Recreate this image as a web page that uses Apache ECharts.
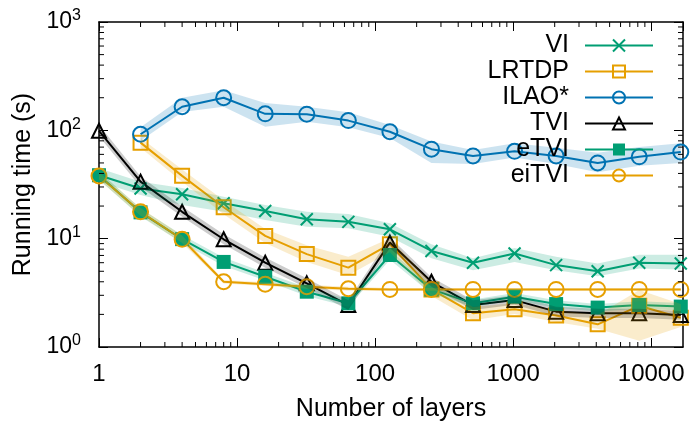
<!DOCTYPE html>
<html><head><meta charset="utf-8">
<script src="https://cdn.jsdelivr.net/npm/echarts@6/dist/echarts.min.js"></script>
<style>html,body{margin:0;padding:0;background:#fff}#c{width:691px;height:427px}</style>
</head><body><div id="c"></div>
<script>
const layers = [1,2,4,8,16,32,64,128,256,512,1024,2048,4096,8192,16384];

const viMean = [38.5,29.0,25.7,21.2,18.0,15.1,14.3,12.2,7.7,6.0,7.3,5.7,5.0,6.0,5.9];
const viLow  = [33.6,25.3,20.5,17.7,14.9,12.9,12.5,10.4,6.6,5.1,6.1,5.1,4.5,5.3,5.2];
const viHigh = [44.6,33.6,29.4,24.4,20.5,17.7,16.9,13.9,8.9,6.6,8.2,6.8,5.9,7.1,7.1];

const lrtdpMean = [null,77,38,19.5,10.6,7.2,5.4,8.9,3.4,2.05,2.23,1.95,1.62,2.4,1.86];
const lrtdpLow  = [null,69.2,33.6,16.8,9.1,6.1,4.6,7.5,2.96,1.77,2.02,1.7,1.47,1.14,1.53];
const lrtdpHigh = [null,85.5,43.4,22.6,12.3,8.7,6.8,10.1,3.9,2.34,2.55,2.2,1.97,3.36,2.49];

const ilaoMean = [null,92,165,200,142,141,123,97,67,58,64,58,50,57,63];
const ilaoLow  = [null,80,148,165,108,120,107,85,50,49,56,49,41,47,50];
const ilaoHigh = [null,107,200,235,179,165,147,112,79,66,76,69,62,70,76];

const tviMean = [99,33.6,17.7,9.87,6.0,3.87,2.44,9.2,4.0,2.44,2.71,2.12,2.05,2.05,1.97];
const tviLow  = [88,30,15.9,8.9,5.4,3.5,2.2,8.2,3.6,2.2,2.45,1.92,1.85,1.85,1.78];
const tviHigh = [112,37.5,19.8,11.0,6.7,4.3,2.7,10.3,4.4,2.7,3.0,2.35,2.25,2.25,2.15];

const etviMean = [38.5,17.5,9.9,6.1,4.45,3.24,2.53,7.07,3.4,2.53,2.91,2.49,2.31,2.44,2.36];
const etviLow  = [35,16,9.1,5.6,4.1,2.95,2.35,6.4,3.1,2.35,2.7,2.3,2.13,2.25,2.17];
const etviHigh = [42,19,10.8,6.7,4.85,3.55,2.75,7.8,3.7,2.75,3.15,2.7,2.5,2.65,2.55];

const eitviMean = [37.9,17.7,9.87,4.0,3.8,3.6,3.45,3.4,3.4,3.4,3.4,3.4,3.4,3.4,3.4];
const eitviLow  = [35,16.3,9.1,3.85,3.65,3.45,3.3,3.3,3.3,3.3,3.3,3.3,3.3,3.3,3.3];
const eitviHigh = [41,19.2,10.7,4.15,3.95,3.75,3.6,3.5,3.5,3.5,3.5,3.5,3.5,3.5,3.5];

const xMinorTicks = [2,3,4,5,6,7,8,9,20,30,40,50,60,70,80,90,200,300,400,500,600,700,800,900,2000,3000,4000,5000,6000,7000,8000,9000];
const yMinorTicks = [2,3,4,5,6,7,8,9,20,30,40,50,60,70,80,90,200,300,400,500,600,700,800,900];

const GREEN = '#009e73', ORANGE = '#e69f00', BLUE = '#0072b2', BLACK = '#000000';
const FONT = 'Liberation Sans, Arial, Helvetica, sans-serif';
const CROSS = 'path://M0,0L10,10M10,0L0,10';

function pairs(mean){ const out=[]; mean.forEach((v,i)=>{ if(v!=null) out.push([layers[i], v]); }); return out; }

function lineSeries(name, mean, color, symbol, size, filled){
  return {
    type:'line', name, data: pairs(mean), color,
    symbol, symbolSize: size, z: 2,
    lineStyle:{color, width:2},
    itemStyle:{color: filled ? color : 'rgba(0,0,0,0)', borderColor: color, borderWidth: filled?0:2},
    emphasis:{disabled:true}
  };
}
function bandSeries(low, high, rgba){
  return {
    type:'custom', coordinateSystem:'cartesian2d', data:[[1,1]], z:3, silent:true,
    renderItem(params, api){
      const top=[], bot=[];
      for(let i=0;i<layers.length;i++){
        if(low[i]==null) continue;
        top.push(api.coord([layers[i], high[i]]));
        bot.push(api.coord([layers[i], low[i]]));
      }
      return {type:'polygon', shape:{points: top.concat(bot.reverse())}, style:{fill: rgba, stroke:null}};
    }
  };
}
function minorX(){
  return {
    type:'custom', coordinateSystem:'cartesian2d', data: xMinorTicks.map(v=>[v,1]), z:5, silent:true, clip:false,
    renderItem(params, api){
      const cs = params.coordSys; const p = api.coord([api.value(0), 1]);
      const b = cs.y+cs.height, t = cs.y;
      return {type:'group', children:[
        {type:'line', shape:{x1:p[0],y1:b,x2:p[0],y2:b-5}, style:{stroke:'#000', lineWidth:1}},
        {type:'line', shape:{x1:p[0],y1:t,x2:p[0],y2:t+5}, style:{stroke:'#000', lineWidth:1}}
      ]};
    }
  };
}
function minorY(){
  return {
    type:'custom', coordinateSystem:'cartesian2d', data: yMinorTicks.map(v=>[1,v]), z:5, silent:true, clip:false,
    renderItem(params, api){
      const cs = params.coordSys; const p = api.coord([1, api.value(1)]);
      const l = cs.x, r = cs.x+cs.width;
      return {type:'group', children:[
        {type:'line', shape:{x1:l,y1:p[1],x2:l+5,y2:p[1]}, style:{stroke:'#000', lineWidth:1}},
        {type:'line', shape:{x1:r,y1:p[1],x2:r-5,y2:p[1]}, style:{stroke:'#000', lineWidth:1}}
      ]};
    }
  };
}

const names = ['VI','LRTDP','ILAO*','TVI','eTVI','eiTVI'];
const legendCenters = [45.5,71.5,97.5,123.5,149.5,175.5];
const legends = names.map((n,i)=>({
  data:[n], orient:'vertical', align:'right', right:37, top: legendCenters[i]-14,
  itemWidth:68, itemHeight:15, padding:0, selectedMode:false,
  textStyle:{fontFamily:FONT, fontSize:25, color:'#000', padding:[0,11,0,0], lineHeight:28}
}));

const axisCommon = {
  type:'log', logBase:10,
  axisLine:{show:true, onZero:false, lineStyle:{color:'#000', width:1.5}},
  axisTick:{show:true, inside:true, length:9, lineStyle:{color:'#000', width:1}},
  splitLine:{show:false}, minorTick:{show:false}
};

const chart = echarts.init(document.getElementById('c'), null, {renderer:'canvas'});
chart.setOption({
  animation:false,
  backgroundColor:'#fff',
  grid:{left:99, right:8, top:22, bottom:80, containLabel:false},
  legend: legends,
  xAxis:[
    Object.assign({}, axisCommon, {position:'bottom', min:1, max:17000,
      name:'Number of layers', nameLocation:'middle', nameGap:50,
      nameTextStyle:{fontFamily:FONT, fontSize:25, color:'#000'},
      axisLabel:{show:true, margin:15, fontFamily:FONT, fontSize:24, color:'#000', showMaxLabel:false,
        formatter:v=>String(Math.round(v))}}),
    Object.assign({}, axisCommon, {position:'top', min:1, max:17000, axisLabel:{show:false}})
  ],
  yAxis:[
    Object.assign({}, axisCommon, {position:'left', min:1, max:1000,
      name:'Running time (s)', nameLocation:'middle', nameGap:63,
      nameTextStyle:{fontFamily:FONT, fontSize:25, color:'#000'},
      axisLabel:{show:true, margin:18, fontFamily:FONT, color:'#000',
        formatter:v=>'{b|10}{s|'+Math.round(Math.log10(v))+'}',
        rich:{b:{fontFamily:FONT, fontSize:23, color:'#000', lineHeight:28},
              s:{fontFamily:FONT, fontSize:16, color:'#000', verticalAlign:'top', lineHeight:28}}}}),
    Object.assign({}, axisCommon, {position:'right', min:1, max:1000, axisLabel:{show:false}})
  ],
  series:[
    lineSeries('VI', viMean, GREEN, CROSS, 12, false),
    lineSeries('LRTDP', lrtdpMean, ORANGE, 'rect', 14, false),
    lineSeries('ILAO*', ilaoMean, BLUE, 'circle', 15, false),
    lineSeries('TVI', tviMean, BLACK, 'triangle', 14, false),
    lineSeries('eTVI', etviMean, GREEN, 'rect', 14, true),
    lineSeries('eiTVI', eitviMean, ORANGE, 'circle', 15, false),
    bandSeries(viLow, viHigh, 'rgba(0,158,115,0.2)'),
    bandSeries(lrtdpLow, lrtdpHigh, 'rgba(230,159,0,0.2)'),
    bandSeries(ilaoLow, ilaoHigh, 'rgba(0,114,178,0.2)'),
    bandSeries(tviLow, tviHigh, 'rgba(0,0,0,0.2)'),
    bandSeries(etviLow, etviHigh, 'rgba(0,158,115,0.2)'),
    bandSeries(eitviLow, eitviHigh, 'rgba(230,159,0,0.2)'),
    minorX(), minorY()
  ]
});
</script></body></html>
